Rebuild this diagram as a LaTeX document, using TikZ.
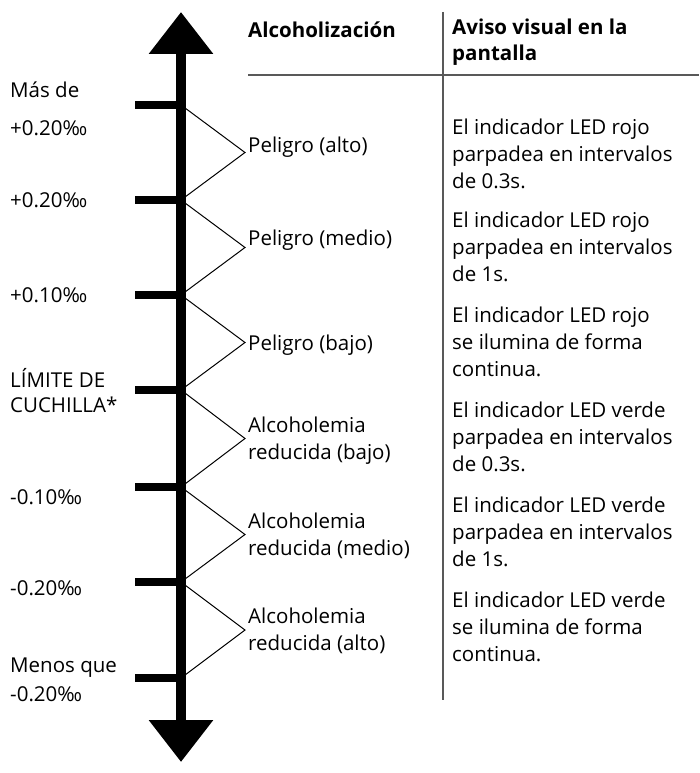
\documentclass[tikz,border=0pt]{standalone}
\usepackage{fontspec}
\setmainfont{Open Sans}
\usetikzlibrary{arrows.meta,calc}
\begin{document}
\begin{tikzpicture}[x=1pt,y=-1pt,
  txt/.style={anchor=west,inner sep=0pt,font=\fontsize{20.5}{27}\selectfont,align=left},
  hdr/.style={txt,font=\fontsize{20.5}{26}\selectfont\bfseries},
  tick/.style={line width=8pt},
  tri/.style={line width=1pt}]
\useasboundingbox (0,0) rectangle (699,773);
% axis
\coordinate (mid) at (181,390);
\coordinate (top) at (181,12);
\coordinate (bot) at (181,762);
\draw[line width=10pt,-{Triangle[width=62pt,length=42pt]}] (mid) -- (top);
\draw[line width=10pt,-{Triangle[width=62pt,length=42pt]}] (mid) -- (bot);
% ticks and triangles
\foreach \y [count=\i] in {105,200,295,390,487,582,678}{
  \coordinate (t\i) at (181,\y);
  \coordinate (s\i) at (135,\y);
  \draw[tick] (s\i) -- (t\i);
}
\foreach \a/\b in {1/2,2/3,3/4,4/5,5/6,6/7}{
  \draw[tri] (t\a) -- ($ (t\a)!0.5!(t\b) + (64,0) $) -- (t\b);
}
% left labels
\node[txt] (m1) at (10,90) {Más de};
\node[txt] (m2) at (10,128) {+0.20‰};
\node[txt] (m3) at (10,200) {+0.20‰};
\node[txt] (m4) at (10,295) {+0.10‰};
\node[txt] (m5) at (10,378) {LÍMITE DE};
\node[txt] (m6) at (10,405) {CUCHILLA*};
\node[txt] (m7) at (10,497) {-0.10‰};
\node[txt] (m8) at (10,588) {-0.20‰};
\node[txt] (m9) at (10,668) {Menos que};
\node[txt] (m10) at (10,694) {-0.20‰};
% header
\node[hdr] (h1) at (248,30) {Alcoholización};
\node[hdr] (h2) at (452,42) {Aviso visual en la\\pantalla};
\coordinate (va) at (443,12); \coordinate (vb) at (443,700);
\draw[line width=1.2pt,gray!70!black] (va) -- (vb);
\coordinate (ha) at (248,75); \coordinate (hb) at (699,75);
\draw[line width=1.2pt,gray!70!black] (ha) -- (hb);
% middle
\node[txt] (c1) at (248,147) {Peligro (alto)};
\node[txt] (c2) at (248,240) {Peligro (medio)};
\node[txt] (c3) at (248,345) {Peligro (bajo)};
\node[txt] (c4) at (248,441) {Alcoholemia\\reducida (bajo)};
\node[txt] (c5) at (248,536) {Alcoholemia\\reducida (medio)};
\node[txt] (c6) at (248,631) {Alcoholemia\\reducida (alto)};
% right
\node[txt] (r1) at (452,154) {El indicador LED rojo\\parpadea en intervalos\\de 0.3s.};
\node[txt] (r2) at (452,247) {El indicador LED rojo\\parpadea en intervalos\\de 1s.};
\node[txt] (r3) at (452,342) {El indicador LED rojo\\se ilumina de forma\\continua.};
\node[txt] (r4) at (452,437) {El indicador LED verde\\parpadea en intervalos\\de 0.3s.};
\node[txt] (r5) at (452,532) {El indicador LED verde\\parpadea en intervalos\\de 1s.};
\node[txt] (r6) at (452,627) {El indicador LED verde\\se ilumina de forma\\continua.};
\end{tikzpicture}
\end{document}
